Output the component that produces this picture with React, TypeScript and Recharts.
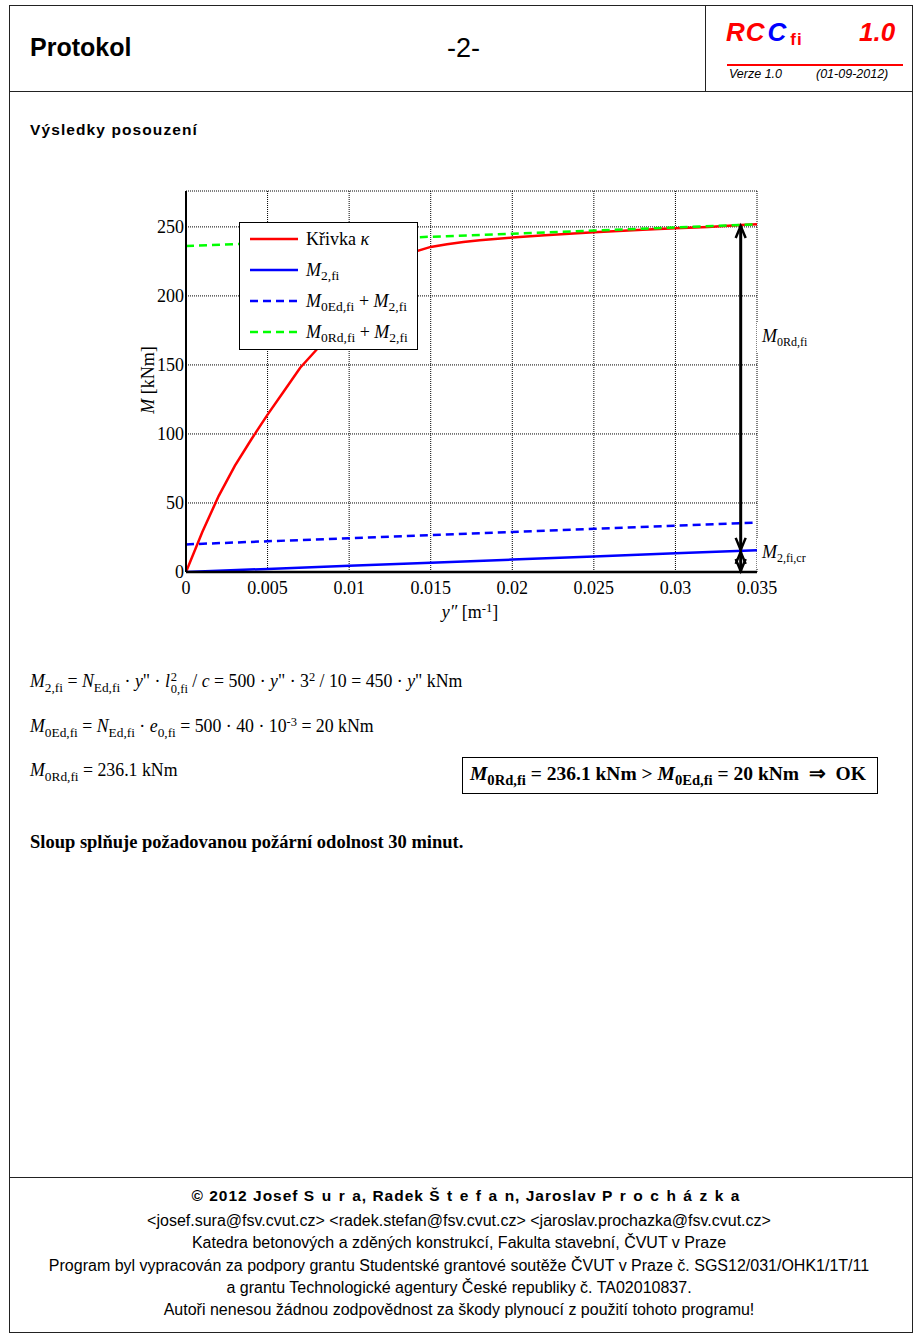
import React from 'react';
import {
  LineChart,
  Line,
  XAxis,
  YAxis,
  CartesianGrid,
  Legend,
  ReferenceLine,
} from 'recharts';

// curvature y'' [1/m] and moments [kNm]
const kappaX = [0, 0.001, 0.002, 0.003, 0.004, 0.005, 0.006, 0.007, 0.008, 0.009, 0.01, 0.011, 0.012, 0.013, 0.014, 0.015, 0.016, 0.017, 0.018, 0.02, 0.022, 0.025, 0.028, 0.03, 0.032, 0.034, 0.035];
const kappaM = [0, 29, 55, 77, 96, 114, 131, 148, 161, 174, 186, 198, 209, 220, 232, 235.5, 237.5, 239, 240.3, 242.3, 244, 246.2, 248, 249, 250, 251.3, 252];

const lineX = [0, 0.005, 0.01, 0.015, 0.02, 0.025, 0.03, 0.035];
const m2 = [0, 2.25, 4.5, 6.75, 9, 11.25, 13.5, 15.75];
const m0EdPlusM2 = [20, 22.25, 24.5, 26.75, 29, 31.25, 33.5, 35.75];
const m0RdPlusM2 = [236.1, 238.35, 240.6, 242.85, 245.1, 247.35, 249.6, 251.85];

// critical point (arrows)
const critX = 0.034;
const critM2 = 15.3;
const critTop = 251.4;

const xTicks = [0, 0.005, 0.01, 0.015, 0.02, 0.025, 0.03, 0.035];
const xTickLabels = ['0', '0.005', '0.01', '0.015', '0.02', '0.025', '0.03', '0.035'];
const yTicks = [0, 50, 100, 150, 200, 250];
const yTickLabels = ['0', '50', '100', '150', '200', '250'];

const kappaData = kappaX.map((x, i) => ({ x, y: kappaM[i] }));
const m2Data = lineX.map((x, i) => ({ x, y: m2[i] }));
const edData = lineX.map((x, i) => ({ x, y: m0EdPlusM2[i] }));
const rdData = lineX.map((x, i) => ({ x, y: m0RdPlusM2[i] }));

const SERIF = '"Liberation Serif", "Times New Roman", serif';
const SANS = '"Liberation Sans", Arial, sans-serif';

const Sub = ({ children, size = '0.75em' }: any) => (
  <span style={{ fontSize: size, fontStyle: 'normal', position: 'relative', top: '0.35em' }}>{children}</span>
);
const Sup = ({ children }: any) => (
  <span style={{ fontSize: '0.7em', position: 'relative', top: '-0.5em' }}>{children}</span>
);
const I = ({ children }: any) => <span style={{ fontStyle: 'italic' }}>{children}</span>;

const DoubleArrow = (p: any) => {
  const x = p.x1;
  const top = Math.min(p.y1, p.y2);
  const bot = Math.max(p.y1, p.y2);
  return (
    <g>
      <line x1={x} y1={top + 1} x2={x} y2={bot - 1} stroke="#000" strokeWidth={3} />
      <polyline points={`${x - 5},${top + 13} ${x},${top + 1} ${x + 5},${top + 13}`} fill="none" stroke="#000" strokeWidth={2.5} />
      <polyline points={`${x - 5},${bot - 13} ${x},${bot - 1} ${x + 5},${bot - 13}`} fill="none" stroke="#000" strokeWidth={2.5} />
    </g>
  );
};

const legendRows = [
  { color: '#ff0000', dash: undefined, label: <span>Křivka <I>κ</I></span> },
  { color: '#0000ff', dash: undefined, label: <span><I>M</I><Sub>2,fi</Sub></span> },
  { color: '#0000ff', dash: '8 5', label: <span><I>M</I><Sub>0Ed,fi</Sub> + <I>M</I><Sub>2,fi</Sub></span> },
  { color: '#00ff00', dash: '8 5', label: <span><I>M</I><Sub>0Rd,fi</Sub> + <I>M</I><Sub>2,fi</Sub></span> },
];

const LegendBox = () => (
  <div style={{ position: 'relative', width: 179, height: 128, border: '1px solid #000', background: '#fff', boxSizing: 'border-box', fontFamily: SERIF, fontSize: 18 }}>
    {legendRows.map((r, i) => (
      <div key={i} style={{ position: 'absolute', left: 10, top: 4 + i * 31, height: 24, display: 'flex', alignItems: 'center', whiteSpace: 'nowrap' }}>
        <svg width={48} height={6} style={{ marginRight: 8 }}>
          <line x1={0} y1={3} x2={48} y2={3} stroke={r.color} strokeWidth={2.5} strokeDasharray={r.dash} />
        </svg>
        {r.label}
      </div>
    ))}
  </div>
);

const tickStyle = { fill: '#000', fontSize: 18, fontFamily: SERIF };

const Chart = () => (
  <div style={{ position: 'absolute', left: 100, top: 170 }}>
    <LineChart width={720} height={480} margin={{ top: 21, right: 63, bottom: 28, left: 36 }}>
      <CartesianGrid stroke="#000" strokeDasharray="1 1" strokeWidth={1} />
      <XAxis
        dataKey="x"
        type="number"
        domain={[0, 0.035]}
        ticks={xTicks}
        interval={0}
        tickFormatter={(v: number, i: number) => xTickLabels[i]}
        allowDataOverflow
        height={50}
        tickSize={0}
        tickMargin={9}
        tickLine={false}
        axisLine={{ stroke: '#000', strokeWidth: 2.5 }}
        tick={tickStyle}
      />
      <XAxis xAxisId="top" orientation="top" type="number" domain={[0, 0.035]} height={0} tick={false} tickLine={false} axisLine={{ stroke: '#000', strokeWidth: 1 }} />
      <YAxis
        type="number"
        domain={[0, 276]}
        ticks={yTicks}
        interval={0}
        tickFormatter={(v: number, i: number) => yTickLabels[i]}
        allowDataOverflow
        width={50}
        tickSize={0}
        tickMargin={2}
        tickLine={false}
        axisLine={{ stroke: '#000', strokeWidth: 2 }}
        tick={tickStyle}
      />
      <YAxis yAxisId="right" orientation="right" type="number" domain={[0, 276]} width={0} tick={false} tickLine={false} axisLine={{ stroke: '#000', strokeWidth: 1 }} />
      <Legend layout="vertical" align="center" verticalAlign="middle" content={() => <LegendBox />} wrapperStyle={{ left: 139, top: 52, width: 179, height: 128 }} />
      <Line data={kappaData} dataKey="y" stroke="#ff0000" strokeWidth={2.5} dot={false} isAnimationActive={false} />
      <Line data={m2Data} dataKey="y" stroke="#0000ff" strokeWidth={2.5} dot={false} isAnimationActive={false} />
      <Line data={edData} dataKey="y" stroke="#0000ff" strokeWidth={2.5} strokeDasharray="8 5" dot={false} isAnimationActive={false} />
      <Line data={rdData} dataKey="y" stroke="#00ff00" strokeWidth={2.5} strokeDasharray="8 5" dot={false} isAnimationActive={false} />
      <ReferenceLine segment={[{ x: critX, y: critM2 }, { x: critX, y: critTop }]} shape={DoubleArrow} />
      <ReferenceLine segment={[{ x: critX, y: 0 }, { x: critX, y: critM2 }]} shape={DoubleArrow} />
    </LineChart>
  </div>
);

const abs = (left: number, top: number, extra: any = {}) => ({ position: 'absolute' as const, left, top, whiteSpace: 'nowrap' as const, ...extra });

const spaced = { letterSpacing: 7.5 };
// surname with wide letter spacing, last letter kept tight to the comma
const Spaced = ({ name }: { name: string }) => (
  <span><span style={spaced}>{name.slice(0, -1)}</span>{name.slice(-1)}</span>
);

export default function App() {
  return (
    <div style={{ position: 'absolute', left: 0, top: 0, width: 916, height: 1336, background: '#fff', fontFamily: SANS, color: '#000' }}>
      {/* page frame */}
      <div style={abs(9, 5, { width: 904, height: 1328, border: '1px solid #222', boxSizing: 'border-box' })} />
      <div style={abs(9, 91, { width: 904, height: 0, borderTop: '1px solid #222' })} />
      <div style={abs(705, 5, { width: 0, height: 86, borderLeft: '1px solid #222' })} />
      <div style={abs(9, 1177, { width: 904, height: 0, borderTop: '1px solid #222' })} />

      {/* header */}
      <div style={abs(30, 33, { fontSize: 25, fontWeight: 'bold' })}>Protokol</div>
      <div style={abs(447, 33, { fontSize: 27 })}>-2-</div>
      <div style={abs(726, 17, { fontSize: 26, fontWeight: 'bold', fontStyle: 'italic', color: '#ff0000', letterSpacing: 1 })}>
        RC<span style={{ color: '#0000ff', marginLeft: 2 }}>C</span>
        <span style={{ fontSize: 17, fontStyle: 'normal', position: 'relative', top: 4, marginLeft: 3 }}>fi</span>
      </div>
      <div style={abs(859, 17, { fontSize: 26, fontWeight: 'bold', fontStyle: 'italic', color: '#ff0000' })}>1.0</div>
      <div style={abs(727, 64, { width: 176, height: 0, borderTop: '2px solid #ff0000' })} />
      <div style={abs(729, 67, { fontSize: 12.5, fontStyle: 'italic' })}>Verze 1.0</div>
      <div style={abs(816, 67, { fontSize: 12.5, fontStyle: 'italic' })}>(01-09-2012)</div>

      <div style={abs(30, 121, { fontSize: 15.5, fontWeight: 'bold', letterSpacing: 1.1 })}>Výsledky posouzení</div>

      <Chart />

      {/* axis titles */}
      <div style={abs(148, 380, { fontFamily: SERIF, fontSize: 18, transform: 'translate(-50%, -50%) rotate(-90deg)' })}>
        <I>M</I> [kNm]
      </div>
      <div style={abs(470, 612, { fontFamily: SERIF, fontSize: 18, transform: 'translate(-50%, -50%)' })}>
        <I>y″</I> [m<Sup>-1</Sup>]
      </div>

      {/* arrow labels */}
      <div style={abs(757, 322, { fontFamily: SERIF, fontSize: 18, background: '#fff', padding: '4px 6px 6px 5px' })}>
        <I>M</I><Sub size="12px">0Rd,fi</Sub>
      </div>
      <div style={abs(757, 538, { fontFamily: SERIF, fontSize: 18, background: '#fff', padding: '4px 6px 6px 5px' })}>
        <I>M</I><Sub size="12px">2,fi,cr</Sub>
      </div>

      {/* formulas */}
      <div style={abs(30, 671, { fontFamily: SERIF, fontSize: 17.8 })}>
        <I>M</I><Sub>2,fi</Sub> = <I>N</I><Sub>Ed,fi</Sub> · <I>y</I>" · <I>l</I>
        <span style={{ display: 'inline-block', verticalAlign: 'middle', lineHeight: '12px', fontSize: 12.5, marginLeft: 1 }}>
          <span style={{ display: 'block' }}>2</span>
          <span style={{ display: 'block' }}>0,fi</span>
        </span>{' '}
        / <I>c</I> = 500 · <I>y</I>" · 3<Sup>2</Sup> / 10 = 450 · <I>y</I>" kNm
      </div>
      <div style={abs(30, 716, { fontFamily: SERIF, fontSize: 17.8 })}>
        <I>M</I><Sub>0Ed,fi</Sub> = <I>N</I><Sub>Ed,fi</Sub> · <I>e</I><Sub>0,fi</Sub> = 500 · 40 · 10<Sup>-3</Sup> = 20 kNm
      </div>
      <div style={abs(30, 760, { fontFamily: SERIF, fontSize: 17.8 })}>
        <I>M</I><Sub>0Rd,fi</Sub> = 236.1 kNm
      </div>
      <div style={abs(462, 757, { width: 416, height: 37, border: '1px solid #000', boxSizing: 'border-box', fontFamily: SERIF, fontSize: 19.5, fontWeight: 'bold', paddingLeft: 7, lineHeight: '31px' })}>
        <I>M</I><Sub>0Rd,fi</Sub> = 236.1 kNm &gt; <I>M</I><Sub>0Ed,fi</Sub> = 20 kNm &nbsp;⇒&nbsp; OK
      </div>

      <div style={abs(30, 832, { fontFamily: SERIF, fontSize: 18.5, fontWeight: 'bold' })}>
        Sloup splňuje požadovanou požární odolnost 30 minut.
      </div>

      {/* footer */}
      <div style={abs(466, 1187, { transform: 'translateX(-50%)', fontSize: 15.5, fontWeight: 'bold', letterSpacing: 1 })}>
        © 2012 Josef <Spaced name="Sura" />, Radek <Spaced name="Štefan" />, Jaroslav <Spaced name="Procházka" />
      </div>
      {[
        '<josef.sura@fsv.cvut.cz> <radek.stefan@fsv.cvut.cz> <jaroslav.prochazka@fsv.cvut.cz>',
        'Katedra betonových a zděných konstrukcí, Fakulta stavební, ČVUT v Praze',
        'Program byl vypracován za podpory grantu Studentské grantové soutěže ČVUT v Praze č. SGS12/031/OHK1/1T/11',
        'a grantu Technologické agentury České republiky č. TA02010837.',
        'Autoři nenesou žádnou zodpovědnost za škody plynoucí z použití tohoto programu!',
      ].map((t, i) => (
        <div key={i} style={abs(459, 1212 + i * 22.3, { transform: 'translateX(-50%)', fontSize: 16 })}>{t}</div>
      ))}
    </div>
  );
}
